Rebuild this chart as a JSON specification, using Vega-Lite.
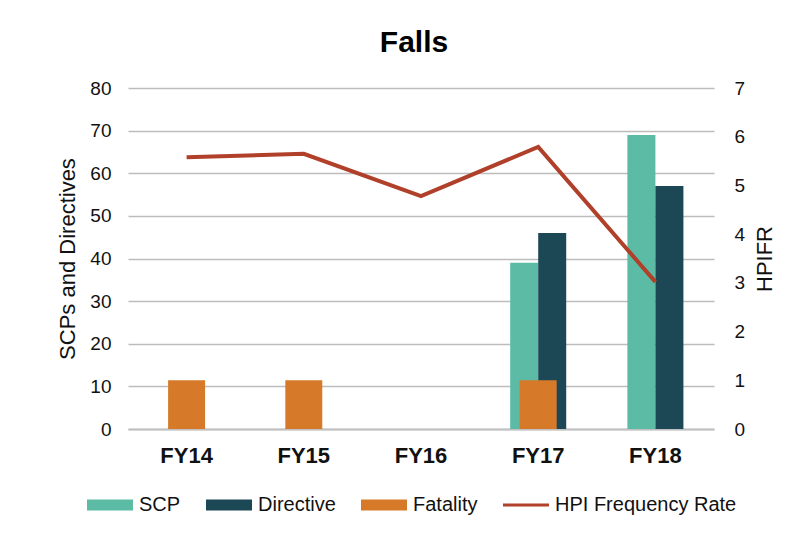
{
  "$schema": "https://vega.github.io/schema/vega-lite/v6.json",
  "autosize": {"type": "none"},
  "width": 586,
  "height": 341,
  "padding": {"left": 128, "top": 88, "right": 78, "bottom": 107},
  "background": "white",
  "config": {
    "font": "Liberation Sans",
    "view": {"stroke": null},
    "axis": {"labelColor": "#111111", "titleColor": "#111111", "labelFont": "Liberation Sans", "titleFont": "Liberation Sans"}
  },
  "title": {
    "text": "Falls",
    "fontSize": 30,
    "fontWeight": "bold",
    "font": "Liberation Sans",
    "color": "#000000",
    "anchor": "middle",
    "dx": -7,
    "offset": 21
  },
  "data": {
    "values": [
      {"fy": "FY14", "series": "SCP", "value": 0},
      {"fy": "FY14", "series": "Directive", "value": 0},
      {"fy": "FY14", "series": "Fatality", "value": 1},
      {"fy": "FY14", "series": "HPI Frequency Rate", "value": 5.58},
      {"fy": "FY15", "series": "SCP", "value": 0},
      {"fy": "FY15", "series": "Directive", "value": 0},
      {"fy": "FY15", "series": "Fatality", "value": 1},
      {"fy": "FY15", "series": "HPI Frequency Rate", "value": 5.65},
      {"fy": "FY16", "series": "SCP", "value": 0},
      {"fy": "FY16", "series": "Directive", "value": 0},
      {"fy": "FY16", "series": "Fatality", "value": 0},
      {"fy": "FY16", "series": "HPI Frequency Rate", "value": 4.78},
      {"fy": "FY17", "series": "SCP", "value": 39},
      {"fy": "FY17", "series": "Directive", "value": 46},
      {"fy": "FY17", "series": "Fatality", "value": 1},
      {"fy": "FY17", "series": "HPI Frequency Rate", "value": 5.79},
      {"fy": "FY18", "series": "SCP", "value": 69},
      {"fy": "FY18", "series": "Directive", "value": 57},
      {"fy": "FY18", "series": "Fatality", "value": 0},
      {"fy": "FY18", "series": "HPI Frequency Rate", "value": 3.02}
    ]
  },
  "encoding": {
    "x": {
      "field": "fy",
      "type": "nominal",
      "sort": ["FY14", "FY15", "FY16", "FY17", "FY18"],
      "scale": {"paddingInner": 0.522, "paddingOuter": 0.261},
      "axis": {
        "title": null,
        "labelAngle": 0,
        "labelFontSize": 22,
        "labelFontWeight": "bold",
        "labelPadding": 16,
        "ticks": false,
        "tickSize": 0,
        "domain": true,
        "domainColor": "#C0C0C0",
        "domainWidth": 2
      }
    },
    "color": {
      "field": "series",
      "type": "nominal",
      "scale": {
        "domain": ["SCP", "Directive", "Fatality", "HPI Frequency Rate"],
        "range": ["#5BBBA5", "#1C4755", "#D67A2A", "#B0402A"]
      },
      "legend": {
        "title": null,
        "orient": "none",
        "direction": "horizontal",
        "legendX": -41,
        "legendY": 394,
        "padding": 0,
        "labelFontSize": 20,
        "labelFont": "Liberation Sans",
        "labelColor": "#111111",
        "labelOffset": 6,
        "labelLimit": 400,
        "columnPadding": 25,
        "symbolSize": 2116,
        "symbolStrokeWidth": 0,
        "symbolOpacity": 1,
        "encode": {
          "symbols": {
            "update": {
              "shape": {"signal": "datum.value === 'HPI Frequency Rate' ? 'M-1,-0.065L1,-0.065L1,0.065L-1,0.065Z' : 'M-1,-0.24L1,-0.24L1,0.24L-1,0.24Z'"},
              "fill": [
                {"test": "datum.value === 'Directive'", "value": "#336F85"},
                {"test": "datum.value === 'SCP'", "value": "#5BBBA5"},
                {"test": "datum.value === 'Fatality'", "value": "#D67A2A"},
                {"value": "#B0402A"}
              ],
              "stroke": {"value": "transparent"},
              "strokeWidth": {"value": 0},
              "opacity": {"value": 1},
              "fillOpacity": {"value": 1}
            }
          }
        }
      }
    }
  },
  "layer": [
    {
      "transform": [{"filter": "datum.series === 'SCP' || datum.series === 'Directive'"}],
      "mark": {"type": "bar"},
      "encoding": {
        "xOffset": {"field": "series", "type": "nominal", "sort": ["SCP", "Directive"], "scale": {"paddingInner": 0, "paddingOuter": 0}},
        "y": {
          "field": "value",
          "type": "quantitative",
          "scale": {"domain": [0, 80], "nice": false},
          "axis": {
            "title": "SCPs and Directives",
            "titleFontSize": 22,
            "titleFontWeight": "normal",
            "titlePadding": 10,
            "labelFontSize": 19,
            "labelPadding": 17,
            "values": [0, 10, 20, 30, 40, 50, 60, 70, 80],
            "ticks": false,
            "tickSize": 0,
            "domain": false,
            "grid": true,
            "gridColor": "#BDBDBD",
            "gridWidth": 1.5
          }
        }
      }
    },
    {
      "layer": [
        {
          "transform": [{"filter": "datum.series === 'Fatality'"}],
          "mark": {"type": "bar", "width": {"band": 0.66}},
          "encoding": {
            "y": {
              "field": "value",
              "type": "quantitative",
              "scale": {"domain": [0, 7], "nice": false},
              "axis": {
                "orient": "right",
                "title": "HPIFR",
                "titleFontSize": 22,
                "titleFontWeight": "normal",
                "titleAngle": 270,
                "titleBaseline": "top",
                "titlePadding": 10,
                "labelFontSize": 19,
                "labelPadding": 20,
                "values": [0, 1, 2, 3, 4, 5, 6, 7],
                "ticks": false,
                "tickSize": 0,
                "domain": false,
                "grid": false
              }
            }
          }
        },
        {
          "transform": [{"filter": "datum.series === 'HPI Frequency Rate'"}],
          "mark": {"type": "line", "strokeWidth": 4, "strokeJoin": "miter"},
          "encoding": {
            "y": {"field": "value", "type": "quantitative"}
          }
        }
      ]
    }
  ],
  "resolve": {"scale": {"y": "independent"}}
}
